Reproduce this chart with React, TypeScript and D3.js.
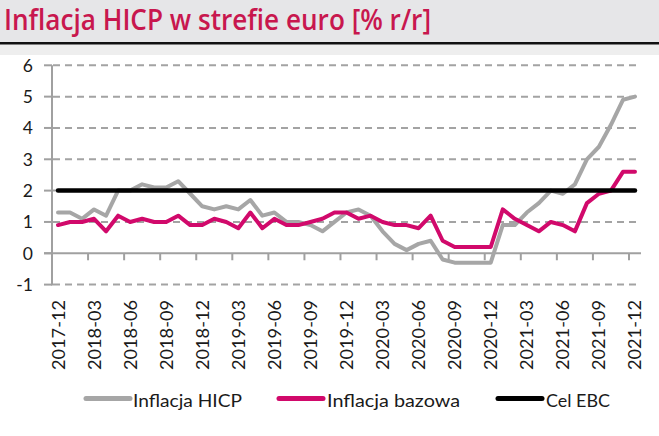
import React from "react";
import * as d3 from "d3";

const months: string[] = [
  "2017-12",
  "2018-01", "2018-02", "2018-03", "2018-04", "2018-05", "2018-06", "2018-07", "2018-08", "2018-09", "2018-10", "2018-11", "2018-12",
  "2019-01", "2019-02", "2019-03", "2019-04", "2019-05", "2019-06", "2019-07", "2019-08", "2019-09", "2019-10", "2019-11", "2019-12",
  "2020-01", "2020-02", "2020-03", "2020-04", "2020-05", "2020-06", "2020-07", "2020-08", "2020-09", "2020-10", "2020-11", "2020-12",
  "2021-01", "2021-02", "2021-03", "2021-04", "2021-05", "2021-06", "2021-07", "2021-08", "2021-09", "2021-10", "2021-11", "2021-12",
];

const hicp: number[] = [
  1.3,
  1.3, 1.1, 1.4, 1.2, 2.0, 2.0, 2.2, 2.1, 2.1, 2.3, 1.9, 1.5,
  1.4, 1.5, 1.4, 1.7, 1.2, 1.3, 1.0, 1.0, 0.9, 0.7, 1.0, 1.3,
  1.4, 1.2, 0.7, 0.3, 0.1, 0.3, 0.4, -0.2, -0.3, -0.3, -0.3, -0.3,
  0.9, 0.9, 1.3, 1.6, 2.0, 1.9, 2.2, 3.0, 3.4, 4.1, 4.9, 5.0,
];

const core: number[] = [
  0.9,
  1.0, 1.0, 1.1, 0.7, 1.2, 1.0, 1.1, 1.0, 1.0, 1.2, 0.9, 0.9,
  1.1, 1.0, 0.8, 1.3, 0.8, 1.1, 0.9, 0.9, 1.0, 1.1, 1.3, 1.3,
  1.1, 1.2, 1.0, 0.9, 0.9, 0.8, 1.2, 0.4, 0.2, 0.2, 0.2, 0.2,
  1.4, 1.1, 0.9, 0.7, 1.0, 0.9, 0.7, 1.6, 1.9, 2.0, 2.6, 2.6,
];

const target: number[] = months.map(() => 2);

const yTicks: number[] = [-1, 0, 1, 2, 3, 4, 5, 6];

const seriesNames = ["Inflacja HICP", "Inflacja bazowa", "Cel EBC"];
const seriesColors = ["#a6a6a6", "#d1096b", "#000000"];

const FONT = "Lato, 'Open Sans', sans-serif";

export default function App() {
  const W = 659;
  const H = 436;
  const x = d3.scaleBand<string>().domain(months).range([52, 641]).padding(0);
  const bw = x.bandwidth();
  const cx = (m: string) => (x(m) as number) + bw / 2;
  const y = d3.scaleLinear().domain([-1, 6]).range([284.6, 65.3]);

  const line = d3
    .line<number>()
    .x((_, i) => cx(months[i]))
    .y((v) => y(v));

  const tickMonths = months.filter((_, i) => i % 3 === 0);
  const series = [hicp, core, target];

  const legendItems = [
    { x1: 86, x2: 130, tx: 133, tl: 109 },
    { x1: 279, x2: 323, tx: 327, tl: 133 },
    { x1: 498, x2: 542, tx: 546, tl: 64 },
  ];

  return (
    <div style={{ position: "absolute", left: 0, top: 0 }}>
      <svg width={W} height={H} viewBox={`0 0 ${W} ${H}`} style={{ display: "block" }}>
        <rect x={0} y={0} width={W} height={H} fill="#ffffff" />
        <rect x={0} y={0} width={W} height={55} fill="#eeeeee" />
        <rect x={0} y={0} width={W} height={42} fill="#e6e6e8" />
        <rect x={0} y={42} width={W} height={2.5} fill="#111111" />
        <text
          x={4}
          y={30}
          fontFamily="'Open Sans', sans-serif"
          fontSize={28}
          fontWeight={600}
          fill="#c8174e"
          textLength={427}
          lengthAdjust="spacingAndGlyphs"
        >
          Inflacja HICP w strefie euro [% r/r]
        </text>

        {/* gridlines */}
        {yTicks
          .filter((t) => t !== 0)
          .map((t) => (
            <line
              key={"g" + t}
              x1={53}
              x2={639}
              y1={y(t)}
              y2={y(t)}
              stroke="#a3a3a3"
              strokeWidth={2}
              strokeDasharray="7 5"
            />
          ))}

        {/* y ticks */}
        {yTicks.map((t) => (
          <line key={"yt" + t} x1={44} x2={52} y1={y(t)} y2={y(t)} stroke="#a0a0a0" strokeWidth={2} />
        ))}

        {/* y axis */}
        <line x1={52} x2={52} y1={y(6)} y2={y(-1) + 1} stroke="#a0a0a0" strokeWidth={2} />
        {/* x axis at 0 */}
        <line x1={44} x2={641} y1={y(0)} y2={y(0)} stroke="#a0a0a0" strokeWidth={2} />
        {tickMonths.map((m) => (
          <line
            key={"xt" + m}
            x1={x(m) as number}
            x2={x(m) as number}
            y1={y(0)}
            y2={y(0) + 7}
            stroke="#a0a0a0"
            strokeWidth={2}
          />
        ))}

        {/* y labels */}
        {yTicks.map((t) => (
          <text
            key={"yl" + t}
            x={33}
            y={y(t) + 6.3}
            textAnchor="end"
            fontFamily={FONT}
            fontSize={17.5}
            fill="#1a1a1a"
          >
            {t}
          </text>
        ))}

        {/* x labels */}
        {tickMonths.map((m) => (
          <text
            key={"xl" + m}
            transform={`translate(${cx(m)},300) rotate(-90)`}
            x={0}
            y={6.5}
            textAnchor="end"
            fontFamily={FONT}
            fontSize={17.5}
            fill="#1a1a1a"
            textLength={70}
            lengthAdjust="spacingAndGlyphs"
          >
            {m}
          </text>
        ))}

        {/* series */}
        {series.map((s, k) => (
          <path
            key={"s" + k}
            d={line(s) as string}
            fill="none"
            stroke={seriesColors[k]}
            strokeWidth={k === 2 ? 4.5 : 4}
            strokeLinejoin="round"
            strokeLinecap="round"
          />
        ))}

        {/* legend */}
        {legendItems.map((it, k) => (
          <g key={"lg" + k}>
            <line
              x1={it.x1}
              x2={it.x2}
              y1={398.5}
              y2={398.5}
              stroke={seriesColors[k]}
              strokeWidth={5}
              strokeLinecap="round"
            />
            <text
              x={it.tx}
              y={406.5}
              fontFamily={FONT}
              fontSize={18}
              fill="#1a1a1a"
              textLength={it.tl}
              lengthAdjust="spacingAndGlyphs"
            >
              {seriesNames[k]}
            </text>
          </g>
        ))}
      </svg>
    </div>
  );
}
